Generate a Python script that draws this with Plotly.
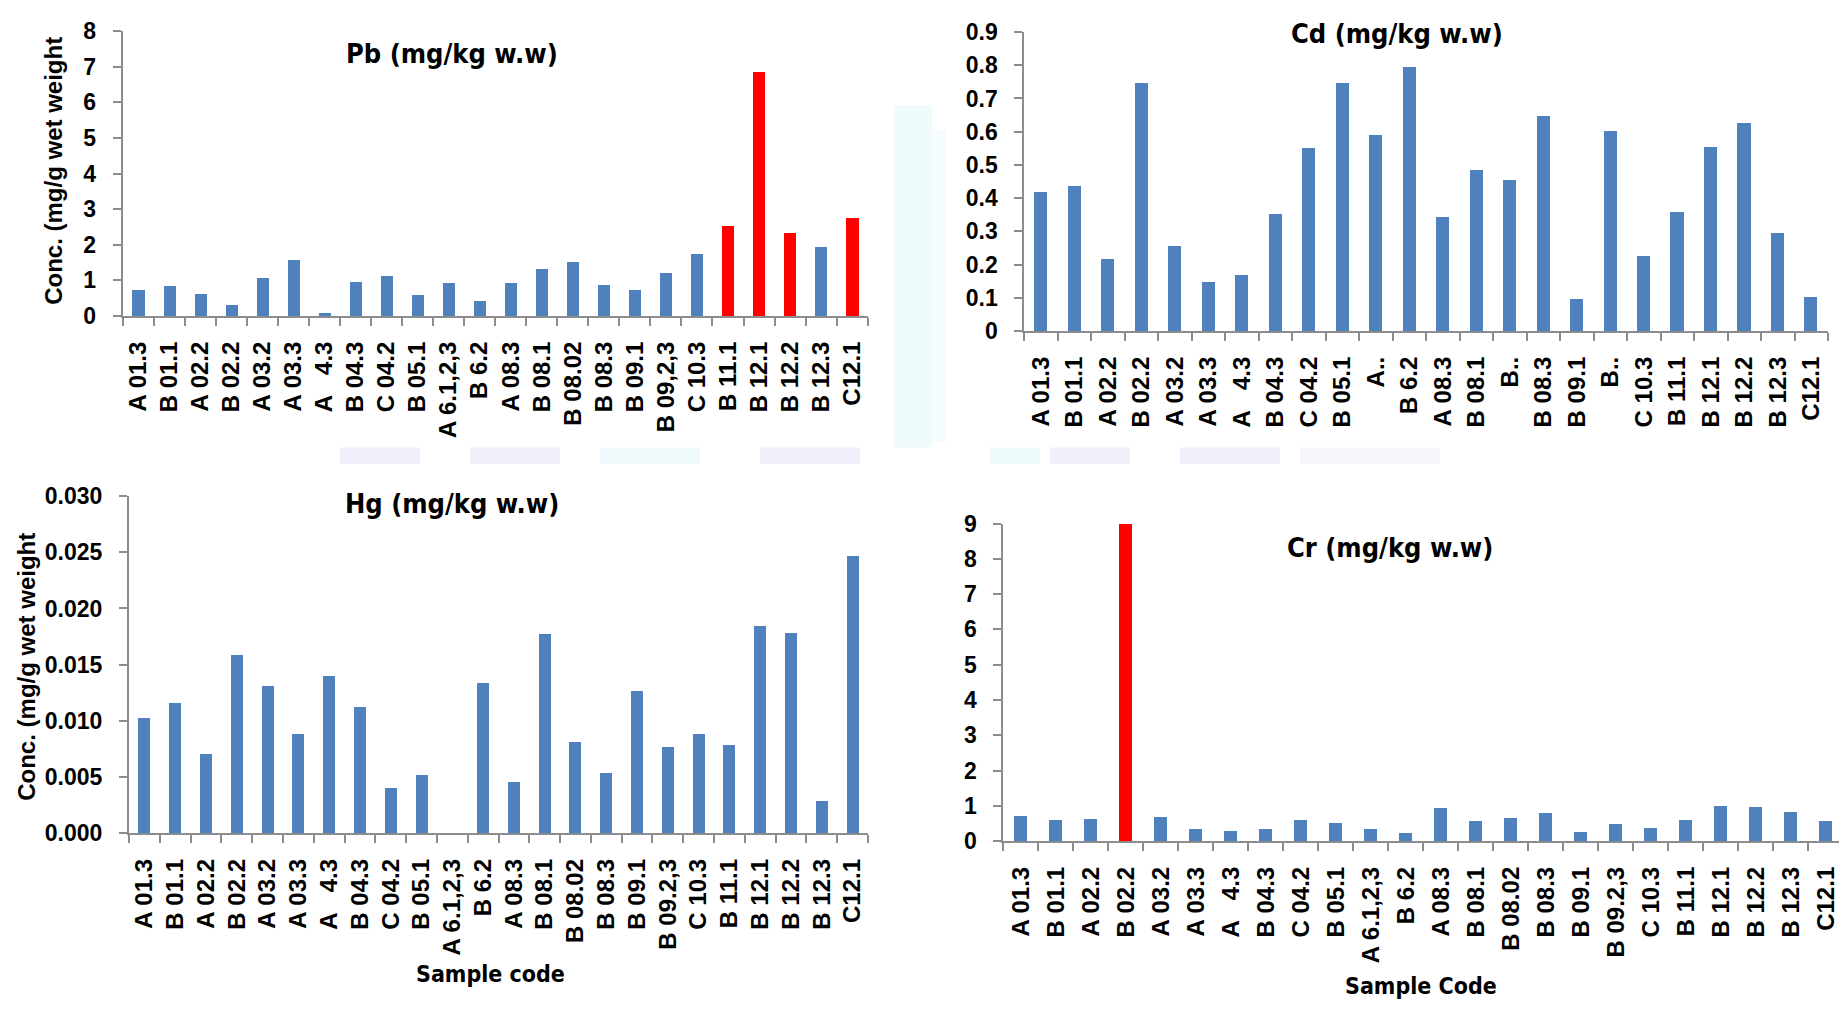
import plotly.graph_objects as go

W, H = 1839, 1013

# ---- sample codes (tick labels) ----
NB = "\u00a0"
pb_codes = ["A 01.3", "B 01.1", "A 02.2", "B 02.2", "A 03.2", "A 03.3", "A" + NB * 3 + "4.3",
            "B 04.3", "C 04.2", "B 05.1", "A 6.1,2,3", "B 6.2", "A 08.3", "B 08.1", "B 08.02",
            "B 08.3", "B 09.1", "B 09,2,3", "C 10.3", "B 11.1", "B 12.1", "B 12.2", "B 12.3", "C12.1"]
cd_codes = ["A 01.3", "B 01.1", "A 02.2", "B 02.2", "A 03.2", "A 03.3", "A" + NB * 3 + "4.3",
            "B 04.3", "C 04.2", "B 05.1", "A..", "B 6.2", "A 08.3", "B 08.1", "B..",
            "B 08.3", "B 09.1", "B..", "C 10.3", "B 11.1", "B 12.1", "B 12.2", "B 12.3", "C12.1"]
hg_codes = ["A 01.3", "B 01.1", "A 02.2", "B 02.2", "A 03.2", "A 03.3", "A" + NB * 3 + "4.3",
            "B 04.3", "C 04.2", "B 05.1", "A 6.1,2,3", "B 6.2", "A 08.3", "B 08.1", "B 08.02",
            "B 08.3", "B 09.1", "B 09.2,3", "C 10.3", "B 11.1", "B 12.1", "B 12.2", "B 12.3", "C12.1"]
cr_codes = list(hg_codes)

# ---- concentrations ----
pb_values = [0.74, 0.84, 0.63, 0.30, 1.06, 1.56, 0.08, 0.96, 1.11, 0.59, 0.92, 0.43,
             0.93, 1.32, 1.52, 0.86, 0.74, 1.22, 1.75, 2.53, 6.84, 2.32, 1.93, 2.75]
cd_values = [0.420, 0.438, 0.217, 0.746, 0.255, 0.149, 0.168, 0.352, 0.552, 0.746, 0.589, 0.794,
             0.343, 0.485, 0.455, 0.646, 0.097, 0.602, 0.227, 0.359, 0.555, 0.625, 0.294, 0.102]
hg_values = [0.0103, 0.0116, 0.0071, 0.0159, 0.0131, 0.0088, 0.0140, 0.0112, 0.0040, 0.0052,
             0.0, 0.0134, 0.0046, 0.0177, 0.0081, 0.0054, 0.0127, 0.0077, 0.0088, 0.0079,
             0.0184, 0.0178, 0.0029, 0.0247]
cr_values = [0.73, 0.62, 0.65, 9.00, 0.71, 0.37, 0.30, 0.37, 0.62, 0.54, 0.37, 0.24,
             0.95, 0.59, 0.68, 0.81, 0.27, 0.51, 0.40, 0.62, 1.01, 0.98, 0.84, 0.59]

# samples above the limit are drawn in red
pb_flagged = [19, 20, 21, 23]
cd_flagged = []
hg_flagged = []
cr_flagged = [3]

BLUE = "#4F81BD"
RED = "#FF0000"
GREY = "#8C8C8C"
FONT = "Liberation Sans, Arial, sans-serif"
NARROW = "Liberation Sans Narrow, Arial Narrow, DejaVu Sans Condensed, sans-serif"


def fx(p):
    return p / W


def fy(p):
    return 1 - p / H


panels = [
    dict(codes=pb_codes, values=pb_values, flagged=pb_flagged, xpx=(122.7, 867.7), ypx=(311, 18.5),
         yrange=[0, 8], dtick=1, fmt="", xend=23.5),
    dict(codes=cd_codes, values=cd_values, flagged=cd_flagged, xpx=(1024.3, 1828), ypx=(326.5, 19.5),
         yrange=[0, 0.9], dtick=0.1, fmt="", xend=23.5),
    dict(codes=hg_codes, values=hg_values, flagged=hg_flagged, xpx=(129, 868), ypx=(842, 495.7),
         yrange=[0, 0.030], dtick=0.005, fmt=".3f", xend=23.5),
    dict(codes=cr_codes, values=cr_values, flagged=cr_flagged, xpx=(1003.3, 1839), ypx=(850, 524),
         yrange=[0, 9], dtick=1, fmt="", xend=-0.5 + (1839 - 1003.3) / 35.0),
]

fig = go.Figure()
layout = {}
for i, p in enumerate(panels, start=1):
    xs = list(range(len(p["codes"])))
    colors = [RED if k in p["flagged"] else BLUE for k in xs]
    sfx = "" if i == 1 else str(i)
    fig.add_trace(go.Bar(x=xs, y=p["values"], width=0.39, marker=dict(color=colors, line=dict(width=0)),
                         xaxis="x" + sfx, yaxis="y" + sfx, showlegend=False))
    # labels sit under category centres; visible tick marks sit on category boundaries
    layout["xaxis" + sfx] = dict(
        domain=[fx(p["xpx"][0]), fx(p["xpx"][1])], range=[-0.5, p["xend"]], anchor="y" + sfx,
        tickmode="array", tickvals=xs, ticktext=p["codes"], tickangle=-90,
        ticks="outside", ticklen=14, tickcolor="rgba(0,0,0,0)", tickwidth=1,
        showline=True, linecolor=GREY, linewidth=2, showgrid=False, zeroline=False,
        tickfont=dict(family=FONT, size=24, color="#000", weight="bold"),
        minor=dict(tickmode="array", tickvals=[k - 0.5 for k in range(len(xs) + 1)], ticks="outside",
                   ticklen=8, tickcolor=GREY, tickwidth=2, showgrid=False),
    )
    layout["yaxis" + sfx] = dict(
        domain=[fy(p["ypx"][0]), fy(p["ypx"][1])], range=p["yrange"], anchor="x" + sfx,
        tick0=0, dtick=p["dtick"], tickformat=p["fmt"], ticks="outside", ticklen=8, tickcolor=GREY,
        tickwidth=2, showline=True, linecolor=GREY, linewidth=2, showgrid=False, zeroline=False,
        ticklabelstandoff=12, tickfont=dict(family=FONT, size=23, color="#000", weight="bold"),
    )

annotations = []


def label(text, xpx, ypx, size, family, angle=0):
    annotations.append(dict(text=text, x=fx(xpx), y=fy(ypx), xref="paper", yref="paper",
                            showarrow=False, textangle=angle, xanchor="center", yanchor="middle",
                            font=dict(family=family, size=size, color="#000", weight="bold")))


label("Pb (mg/kg w.w)", 452, 42, 27, NARROW)
label("Cd (mg/kg w.w)", 1397, 21, 27, NARROW)
label("Hg (mg/kg w.w)", 452, 503, 27, NARROW)
label("Cr (mg/kg w.w)", 1390, 549, 27, NARROW)
label("Conc. (mg/g wet weight", 54, 162, 24, FONT, -90)
label("Conc. (mg/g wet weight", 27, 671, 24, FONT, -90)
label("Sample code", 490, 986, 23, NARROW)
label("Sample Code", 1421, 999, 23, NARROW)

# faint page tint around the chart blocks
shapes = []
tints = [
    (894, 95, 932, 446, "#e3f6fa"),
    (932, 120, 946, 440, "#f0fafc"),
    (340, 446, 420, 463, "#e8e6f6"),
    (470, 446, 560, 463, "#e6e4f6"),
    (600, 446, 700, 463, "#e4f5fa"),
    (760, 446, 860, 463, "#e8e6f6"),
    (990, 446, 1040, 463, "#e3f5fa"),
    (1050, 446, 1130, 463, "#e8e6f6"),
    (1180, 446, 1280, 463, "#e6e4f6"),
    (1300, 446, 1440, 463, "#efeef9"),
]
for x0, y0, x1, y1, c in tints:
    shapes.append(dict(type="rect", xref="paper", yref="paper", x0=fx(x0), x1=fx(x1), y0=fy(y1), y1=fy(y0),
                       fillcolor=c, line=dict(width=0), layer="below", opacity=0.6))

fig.update_layout(
    width=W, height=H, margin=dict(l=0, r=0, t=0, b=0), paper_bgcolor="white", plot_bgcolor="white",
    annotations=annotations, shapes=shapes, bargap=0, **layout,
)
fig.write_html("out.html")
